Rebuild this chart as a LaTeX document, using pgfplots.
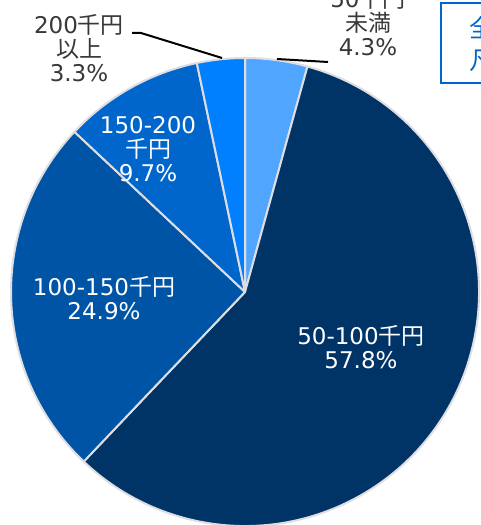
\documentclass[border=0pt]{standalone}
\usepackage{fontspec}
\setmainfont{DejaVu Sans}
\newfontfamily\jp{Noto Sans CJK JP}
\usepackage{pgfplots}
\usepackage{pgfplotstable}
\pgfplotsset{compat=1.18}

\definecolor{c1}{RGB}{80,165,255}
\definecolor{c2}{RGB}{0,51,102}
\definecolor{c3}{RGB}{0,84,166}
\definecolor{c4}{RGB}{0,102,204}
\definecolor{c5}{RGB}{0,128,255}
\definecolor{edge}{RGB}{222,222,226}
\definecolor{txt}{RGB}{56,56,56}
\definecolor{boxblue}{RGB}{0,102,204}

% share of each band, clockwise from 12 o'clock
\pgfplotstableread{
band val col
lt50 4.3 c1
50to100 57.8 c2
100to150 24.9 c3
150to200 9.7 c4
ge200 3.3 c5
}\piedata

\begin{document}
\begin{tikzpicture}
\clip (0,0) rectangle (240.5pt,262.5pt);
\begin{axis}[
  at={(0,0)}, anchor=south west,
  x=0.5pt, y=0.5pt, scale only axis,
  xmin=0, xmax=481, ymin=0, ymax=525,
  hide axis, clip=false,
]
\def\acc{90}
\pgfplotsforeachungrouped \i in {0,...,4}{%
  \pgfplotstablegetelem{\i}{val}\of\piedata \let\sliceval\pgfplotsretval
  \pgfplotstablegetelem{\i}{col}\of\piedata \let\slicecol\pgfplotsretval
  \pgfmathsetmacro\aend{\acc-3.6*\sliceval}
  \edef\temp{\noexpand\filldraw[fill=\slicecol, draw=edge, line width=1pt, line join=round]
    (axis cs:245,233) -- ++(\acc:117pt) arc[start angle=\acc, end angle=\aend, radius=117pt] -- cycle;}
  \temp
  \global\let\acc\aend
}

\begin{scope}[font=\fontsize{11.5}{12}\selectfont]
% labels inside
\node[white, align=center, inner sep=0] at (axis cs:361,178) {50-100{\jp 千円}\\57.8\%};
\node[white, align=center, inner sep=0] at (axis cs:104,227) {100-150{\jp 千円}\\24.9\%};
\node[white, align=center, inner sep=0] at (axis cs:148,376) {150-200\\{\jp 千円}\\9.7\%};
% labels outside
\node[txt, align=center, inner sep=0] at (axis cs:79,477) {200{\jp 千円}\\{\jp 以上}\\3.3\%};
\node[txt, align=center, inner sep=0] at (axis cs:368,503) {50{\jp 千円}\\{\jp 未満}\\4.3\%};
\end{scope}
\draw[black, line width=1pt] (axis cs:277,466) -- (axis cs:328,463);
\draw[black, line width=1pt] (axis cs:132,492) -- (axis cs:141,492) -- (axis cs:222,467);

% legend-like box at top right (cut off at the picture's edge)
\draw[boxblue, line width=1.2pt, fill=white] (axis cs:441,442) rectangle (axis cs:520,522);
\node[boxblue, anchor=west, inner sep=0, align=left, font=\jp\fontsize{12.5}{16}\selectfont]
  at (axis cs:469,481) {全体\\凡例};
\end{axis}
\end{tikzpicture}
\end{document}
